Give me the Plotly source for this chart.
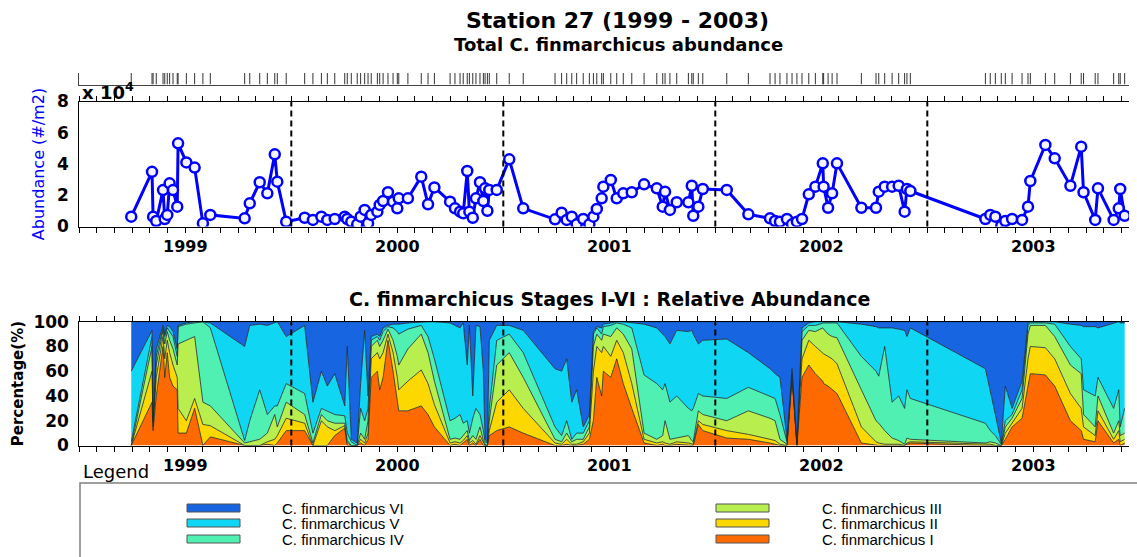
import plotly.graph_objects as go

# ---------------- data ----------------
# sample dates as decimal years
sample_year = [
    1999.245, 1999.343, 1999.348, 1999.363, 1999.395, 1999.403, 1999.415, 1999.426, 1999.442, 1999.462,
    1999.466, 1999.505, 1999.544, 1999.583, 1999.618, 1999.780, 1999.804, 1999.851, 1999.887, 1999.922,
    1999.934, 1999.976,
    2000.063, 2000.102, 2000.142, 2000.170, 2000.205, 2000.252, 2000.264, 2000.283, 2000.311, 2000.327,
    2000.346, 2000.362, 2000.377, 2000.406, 2000.417, 2000.433, 2000.456, 2000.480, 2000.500, 2000.507,
    2000.550, 2000.613, 2000.645, 2000.675, 2000.749, 2000.772, 2000.796, 2000.811, 2000.830, 2000.840,
    2000.856, 2000.871, 2000.890, 2000.906, 2000.914, 2000.925, 2000.934, 2000.969,
    2001.028, 2001.094, 2001.244, 2001.275, 2001.299, 2001.323, 2001.346, 2001.377, 2001.406, 2001.425,
    2001.441, 2001.464, 2001.472, 2001.507, 2001.535, 2001.566, 2001.606, 2001.664, 2001.724, 2001.752,
    2001.763, 2001.786, 2001.818, 2001.873, 2001.889, 2001.896, 2001.920, 2001.941,
    2002.054, 2002.156, 2002.258, 2002.282, 2002.305, 2002.338, 2002.362, 2002.385, 2002.409, 2002.441,
    2002.472, 2002.507, 2002.511, 2002.532, 2002.551, 2002.574, 2002.689, 2002.758, 2002.771, 2002.799,
    2002.834, 2002.865, 2002.893, 2002.904, 2002.920,
    2003.274, 2003.297, 2003.321, 2003.349, 2003.368, 2003.400, 2003.447, 2003.475, 2003.486, 2003.557,
    2003.601, 2003.675, 2003.726, 2003.737, 2003.792, 2003.805, 2003.879, 2003.903, 2003.910, 2003.931,
]

# total abundance (#/m2)
abundance = [
    6300, 35000, 6300, 3500, 23300, 4800, 7400, 27600, 23300, 12700,
    53200, 41000, 37700, 2000, 7400, 5200, 14800, 28300, 21200, 46200,
    28700, 3100,
    5600, 4200, 6300, 4200, 4800, 6300, 4800, 3100, 1400, 6300,
    10600, 2000, 7400, 9500, 13800, 16300, 21900, 15900, 11600, 18000,
    18000, 31900, 14200, 25000, 15900, 11600, 9500, 8400, 35500, 9500,
    5600, 18000, 28300, 16300, 24400, 10100, 23400, 23400,
    43000, 11600, 4600, 8800, 4200, 6300, 1400, 4800, 1400, 6300,
    11200, 18000, 25500, 29800, 18000, 21200, 21900, 27000, 24400, 12700,
    22300, 10600, 15500, 15500, 26100, 6900, 12700, 24000,
    23400, 7800, 5200, 3500, 3100, 4800, 1400, 3100, 4800, 20600,
    25500, 40400, 25500, 12000, 21200, 40400, 12000, 12000, 22300, 25500,
    25500, 26100, 9500, 24000, 22700,
    4800, 7400, 6300, 500, 3500, 4800, 4200, 12700, 29100, 52200,
    43600, 26100, 51100, 21900, 4200, 24400, 4200, 11600, 24000, 6900,
]

# relative abundance of each copepodite stage (%)
stage_I = [
    0, 35, 12, 40, 80, 55, 75, 55, 48, 45, 10, 10, 30, 0, 7, 0, 0, 0, 1, 0, 2, 12,
    12, 0, 0, 0, 8, 14, 0, 0, 0, 2, 0, 5, 55, 60, 45, 55, 85, 60, 35, 28, 28, 32, 25, 15,
    0, 1, 0, 2, 5, 0, 2, 0, 5, 0, 0, 0, 8, 12,
    15, 10, 0, 0, 1, 0, 0, 1, 5, 20, 55, 40, 60, 55, 70, 50, 30, 2, 0, 1, 0, 0, 1, 0, 0, 0, 17, 12,
    6, 5, 2, 1, 0, 0, 55, 0, 55, 65, 58, 52, 50, 48, 45, 42, 2, 0, 0, 0, 0, 0, 0, 1, 2,
    0, 0, 0, 0, 5, 15, 22, 48, 58, 57, 48, 20, 12, 5, 3, 20, 2, 5, 0, 2,
]
stage_II = [
    0, 25, 3, 15, 8, 15, 10, 20, 17, 10, 20, 10, 8, 17, 9, 0, 0, 0, 2, 5, 6, 10,
    6, 0, 20, 15, 4, 2, 2, 0, 0, 3, 2, 5, 15, 15, 25, 20, 5, 15, 20, 17, 24, 29, 25, 18,
    2, 2, 2, 2, 3, 2, 2, 1, 3, 2, 0, 0, 4, 23,
    30, 20, 2, 1, 4, 1, 1, 2, 5, 40, 25, 35, 20, 17, 15, 25, 20, 3, 2, 2, 2, 1, 2, 2, 1, 1, 3, 5,
    6, 4, 3, 3, 1, 0, 1, 0, 15, 20, 22, 23, 24, 24, 25, 24, 13, 3, 2, 1, 1, 1, 0, 1, 1,
    1, 1, 0, 0, 5, 3, 8, 22, 22, 22, 22, 22, 18, 10, 5, 8, 3, 7, 3, 3,
]
stage_III = [
    0, 20, 3, 10, 5, 12, 7, 10, 13, 10, 52, 65, 50, 18, 16, 2, 3, 5, 7, 20, 7, 13,
    7, 2, 5, 5, 6, 2, 2, 0, 0, 5, 3, 10, 10, 10, 10, 10, 4, 10, 17, 20, 26, 29, 25, 19,
    3, 3, 3, 4, 4, 2, 4, 4, 7, 2, 1, 0, 8, 30,
    30, 25, 3, 2, 5, 2, 4, 2, 5, 20, 10, 10, 10, 16, 10, 15, 28, 5, 3, 5, 18, 4, 3, 6, 3, 2, 8, 8,
    8, 19, 17, 16, 4, 1, 2, 1, 15, 8, 12, 20, 20, 18, 18, 21, 30, 17, 16, 11, 5, 3, 1, 4, 2,
    1, 2, 2, 0, 5, 4, 8, 20, 17, 18, 18, 23, 28, 10, 7, 12, 5, 8, 5, 5,
]
stage_IV = [
    3, 8, 2, 7, 2, 6, 3, 7, 10, 7, 14, 13, 11, 65, 63, 2, 17, 40, 15, 7, 17, 15,
    17, 8, 5, 8, 7, 6, 6, 3, 0, 20, 15, 10, 5, 3, 5, 7, 2, 10, 20, 25, 16, 7, 13, 18,
    15, 16, 20, 10, 8, 6, 14, 25, 10, 8, 2, 2, 10, 20,
    15, 20, 10, 5, 10, 2, 5, 5, 5, 10, 5, 5, 6, 9, 4, 8, 17, 47, 45, 37, 30, 30, 34, 22, 24, 27, 14, 15,
    18, 19, 18, 18, 20, 2, 2, 1, 7, 4, 5, 4, 5, 9, 11, 12, 27, 40, 38, 68, 29, 36, 29, 39, 33,
    16, 9, 6, 1, 5, 3, 7, 7, 2, 2, 10, 15, 12, 20, 25, 15, 20, 25, 7, 20,
]
stage_V = [
    57, 5, 2, 6, 2, 2, 2, 4, 4, 6, 1, 1, 1, 0, 4, 76, 77, 53, 72, 67, 68, 38,
    55, 25, 30, 20, 33, 8, 70, 2, 2, 20, 73, 10, 3, 2, 3, 3, 1, 3, 6, 8, 5, 3, 12, 30,
    79, 75, 70, 81, 45, 87, 18, 67, 71, 48, 2, 1, 55, 12,
    7, 18, 47, 52, 50, 30, 35, 5, 5, 2, 1, 5, 2, 2, 1, 2, 4, 41, 45, 45, 38, 47, 53, 62, 65, 60, 40, 45,
    48, 28, 22, 20, 30, 2, 2, 1, 3, 2, 3, 1, 1, 1, 1, 1, 26, 36, 39, 15, 60, 54, 63, 43, 57,
    44, 33, 17, 1, 28, 5, 7, 2, 1, 1, 2, 18, 27, 51, 56, 40, 69, 55, 84, 69,
]
stage_VI = [
    40, 7, 78, 22, 3, 10, 3, 4, 8, 22, 3, 1, 0, 0, 1, 20, 3, 2, 3, 1, 0, 12,
    3, 65, 40, 52, 42, 68, 20, 95, 98, 50, 7, 60, 12, 10, 12, 5, 3, 2, 2, 2, 1, 0, 0, 0,
    1, 3, 5, 1, 35, 3, 60, 3, 4, 40, 95, 97, 15, 3,
    3, 7, 38, 40, 30, 65, 55, 85, 75, 8, 4, 5, 2, 1, 0, 0, 1, 2, 5, 10, 12, 18, 7, 8, 7, 10, 18, 15,
    14, 25, 38, 42, 45, 95, 38, 97, 5, 1, 0, 0, 0, 0, 0, 0, 2, 4, 5, 5, 5, 6, 7, 12, 5,
    38, 55, 75, 98, 52, 70, 48, 1, 0, 0, 0, 2, 3, 4, 4, 5, 1, 0, 1, 1,
]

stage_names = ["C. finmarchicus I", "C. finmarchicus II", "C. finmarchicus III",
               "C. finmarchicus IV", "C. finmarchicus V", "C. finmarchicus VI"]
stage_colors = ["#ff6a00", "#fcd700", "#b8ef4e", "#50efb2", "#0fd6f2", "#1765e0"]
stage_values = [stage_I, stage_II, stage_III, stage_IV, stage_V, stage_VI]

year_breaks = [2000, 2001, 2002, 2003]
abund_ticks = [0, 20000, 40000, 60000, 80000]
abund_ticktext = ["0", "2", "4", "6", "8"]
pct_ticks = [0, 20, 40, 60, 80, 100]

# ---------------- layout helpers ----------------
W, H = 1137, 557


def fx(p):
    return p / W


def fy(p):
    return 1 - p / H


X0, X1 = 79.3, 1129.0
x_range = [1999.0, 1999.0 + (X1 - X0) / 212.0]
month_ticks = [1999 + m / 12 for m in range(60)]
month_text = [str(1999 + m // 12) if m % 12 == 6 else " " for m in range(60)]

BOLD = dict(family="DejaVu Sans", color="black", weight="bold")

fig = go.Figure()

# rug of sampling dates
rug_x, rug_y = [], []
for t in sample_year:
    rug_x += [t, t, None]
    rug_y += [0, 1, None]
fig.add_trace(go.Scatter(x=rug_x, y=rug_y, mode="lines", xaxis="x3", yaxis="y3",
                         line=dict(color="#333333", width=1), hoverinfo="skip"))

# total abundance
fig.add_trace(go.Scatter(
    x=sample_year, y=abundance, mode="lines+markers", xaxis="x", yaxis="y",
    line=dict(color="#0000ff", width=3),
    marker=dict(symbol="circle", size=10, color="#f4f4ff", line=dict(color="#0000ff", width=2.5)),
    name="Abundance"))

# stacked relative abundance
for name, vals, col in zip(stage_names, stage_values, stage_colors):
    fig.add_trace(go.Scatter(
        x=sample_year, y=vals, mode="lines", xaxis="x2", yaxis="y2",
        stackgroup="stages", groupnorm="percent",
        line=dict(color="#1e2a2a", width=0.8), fillcolor=col, name=name))

xcommon = dict(range=x_range, tickmode="array", tickvals=month_ticks, ticktext=month_text,
               ticks="outside", ticklen=5, tickwidth=1, tickcolor="black",
               showline=True, linecolor="black", linewidth=1, mirror="ticks",
               showgrid=False, zeroline=False, tickangle=0, automargin=False,
               tickfont=dict(BOLD, size=16), domain=[fx(X0), fx(X1)])

fig.update_layout(
    width=W, height=H, margin=dict(l=0, r=0, t=0, b=0, pad=0, autoexpand=False),
    paper_bgcolor="white", plot_bgcolor="white", showlegend=False, hovermode=False,
    xaxis=dict(xcommon, anchor="y"),
    yaxis=dict(domain=[fy(226.5), fy(101.5)], range=[0, 80000], anchor="x",
               tickmode="array", tickvals=abund_ticks, ticktext=abund_ticktext,
               ticks="", ticklabelstandoff=6, showline=True, linecolor="black",
               showgrid=False, zeroline=False, tickfont=dict(BOLD, size=17), automargin=False,
               title=dict(text="Abundance (#/m2)", standoff=8,
                          font=dict(family="DejaVu Sans", size=16, color="#0000ff"))),
    xaxis2=dict(xcommon, anchor="y2"),
    yaxis2=dict(domain=[fy(445.5), fy(321.7)], range=[0, 100], anchor="x2",
                tickmode="array", tickvals=pct_ticks, ticks="", ticklabelstandoff=6,
                showline=True, linecolor="black", showgrid=False, zeroline=False,
                tickfont=dict(BOLD, size=17), automargin=False,
                title=dict(text="Percentage(%)", standoff=6, font=dict(BOLD, size=15))),
    xaxis3=dict(domain=[fx(X0), fx(X1)], range=x_range, anchor="y3", showline=True,
                linecolor="#444444", showticklabels=False, ticks="", showgrid=False,
                zeroline=False, automargin=False),
    yaxis3=dict(domain=[fy(84.5), fy(73)], range=[0, 1], anchor="x3", showline=True,
                linecolor="#444444", showticklabels=False, ticks="", showgrid=False,
                zeroline=False, automargin=False),
)

shapes = []
for yb in year_breaks:
    shapes.append(dict(type="line", xref="x", yref="y domain", x0=yb, x1=yb, y0=0, y1=1,
                       line=dict(color="black", width=2, dash="6px,4px"), layer="above"))
    shapes.append(dict(type="line", xref="x2", yref="y2 domain", x0=yb, x1=yb, y0=0, y1=1,
                       line=dict(color="black", width=2, dash="6px,4px"), layer="above"))

# legend frame
shapes.append(dict(type="rect", xref="paper", yref="paper", x0=fx(80), x1=1.05,
                   y0=-0.05, y1=fy(483), line=dict(color="#808080", width=1.5)))

annotations = [
    dict(text="Station 27 (1999 - 2003)", x=fx(617), y=fy(20), xref="paper", yref="paper",
         showarrow=False, font=dict(BOLD, size=22), xanchor="center", yanchor="middle"),
    dict(text="Total C. finmarchicus abundance", x=fx(618), y=fy(45), xref="paper", yref="paper",
         showarrow=False, font=dict(BOLD, size=18), xanchor="center", yanchor="middle"),
    dict(text="x 10<sup>4</sup>", x=fx(80), y=fy(91), xref="paper", yref="paper",
         showarrow=False, font=dict(BOLD, size=18), xanchor="left", yanchor="middle"),
    dict(text="C. finmarchicus Stages I-VI : Relative Abundance", x=fx(609), y=fy(299),
         xref="paper", yref="paper", showarrow=False, font=dict(BOLD, size=19),
         xanchor="center", yanchor="middle"),
    dict(text="Legend", x=fx(81), y=fy(471), xref="paper", yref="paper", showarrow=False,
         font=dict(family="DejaVu Sans", size=18, color="black"), xanchor="left", yanchor="middle"),
]

# legend entries: left column VI, V, IV ; right column III, II, I
legend_layout = [(5, 187, 280, 508), (4, 187, 280, 523), (3, 187, 280, 539),
                 (2, 716, 820, 508), (1, 716, 820, 523), (0, 716, 820, 539)]
for idx, sx, tx, ry in legend_layout:
    shapes.append(dict(type="rect", xref="paper", yref="paper", x0=fx(sx), x1=fx(sx + 53),
                       y0=fy(ry + 4), y1=fy(ry - 4), fillcolor=stage_colors[idx],
                       line=dict(color="#555555", width=1)))
    annotations.append(dict(text=stage_names[idx], x=fx(tx), y=fy(ry), xref="paper", yref="paper",
                            showarrow=False, xanchor="left", yanchor="middle",
                            font=dict(family="Liberation Sans", size=15, color="black")))

fig.update_layout(shapes=shapes, annotations=annotations)
fig.write_html("out.html", config={"displayModeBar": False},
               post_script="document.body.style.margin='0px';document.body.style.overflow='hidden';")
